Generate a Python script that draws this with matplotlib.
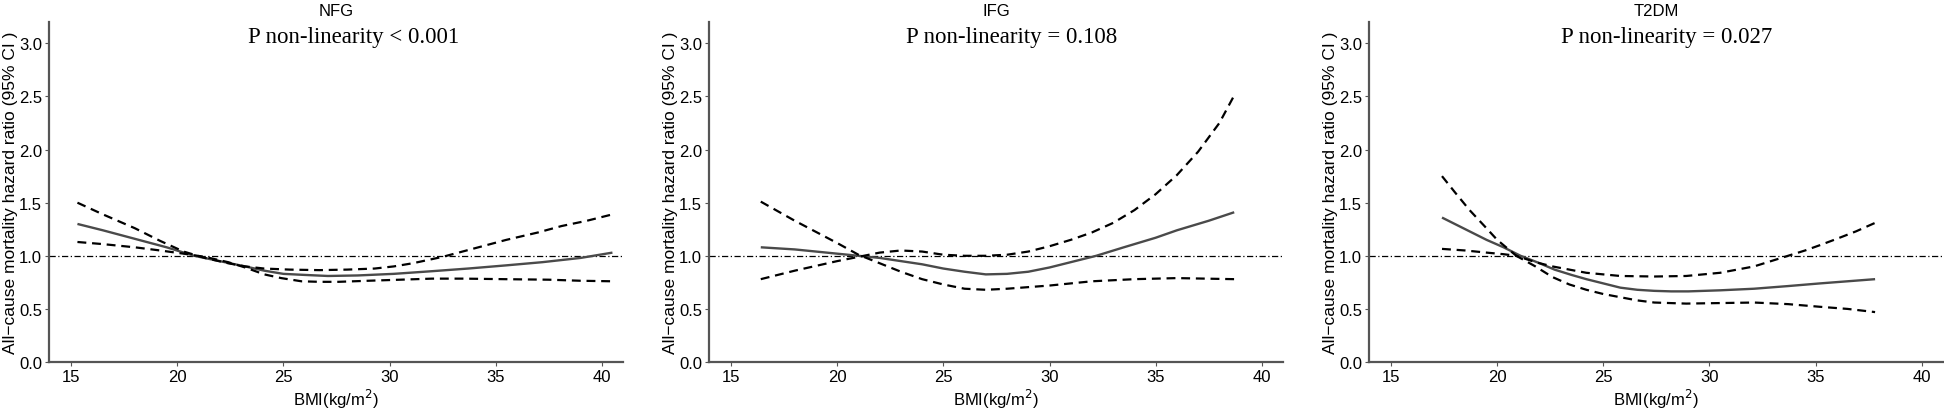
import matplotlib
matplotlib.use("Agg")
import matplotlib.pyplot as plt

plt.rcParams['font.family'] = ['Liberation Sans', 'DejaVu Sans']

# panel titles and p-values
groups = ['NFG', 'IFG', 'T2DM']
p_texts = ['P non-linearity < 0.001', 'P non-linearity = 0.108', 'P non-linearity = 0.027']

# NFG
nfg_x = [15.3, 16.5, 18.0, 19.5, 20.8, 22.0, 23.2, 24.1, 25.0, 26.0, 27.1, 28.5, 30.2, 32.0, 33.7, 35.5, 37.2, 39.0, 40.5]
nfg_hr = [1.30, 1.24, 1.16, 1.08, 1.00, 0.95, 0.90, 0.86, 0.83, 0.82, 0.81, 0.815, 0.83, 0.855, 0.88, 0.91, 0.94, 0.98, 1.03]
nfg_up_x = [15.3, 16.5, 18.0, 19.2, 20.3, 21.3, 22.4, 23.2, 24.1, 25.3, 26.7, 28.0, 29.3, 30.2, 31.1, 32.5, 34.0, 35.5, 37.0, 38.1, 39.3, 40.5]
nfg_up = [1.50, 1.39, 1.26, 1.14, 1.04, 0.98, 0.93, 0.90, 0.88, 0.87, 0.865, 0.87, 0.88, 0.90, 0.93, 0.99, 1.07, 1.15, 1.22, 1.28, 1.33, 1.39]
nfg_lo_x = [15.3, 16.5, 18.0, 19.2, 20.3, 21.3, 22.4, 23.2, 24.1, 24.9, 25.85, 26.7, 27.6, 29.0, 30.5, 32.0, 33.5, 35.4, 37.5, 39.0, 40.5]
nfg_lo = [1.13, 1.11, 1.08, 1.05, 1.02, 0.99, 0.94, 0.89, 0.825, 0.79, 0.76, 0.755, 0.755, 0.765, 0.775, 0.785, 0.785, 0.78, 0.775, 0.765, 0.76]

# IFG
ifg_x = [16.4, 18.0, 20.0, 21.0, 22.0, 23.0, 24.0, 25.0, 26.0, 27.0, 28.0, 29.0, 30.0, 31.0, 32.2, 33.5, 35.0, 36.0, 37.5, 38.7]
ifg_hr = [1.08, 1.06, 1.02, 1.00, 0.98, 0.95, 0.92, 0.88, 0.85, 0.825, 0.83, 0.85, 0.89, 0.94, 1.00, 1.08, 1.17, 1.24, 1.33, 1.41]
ifg_a_x = [16.4, 18.0, 20.0, 21.0, 22.0, 23.0, 24.0, 25.0, 26.0, 27.0, 28.0, 29.0, 30.0, 31.0, 32.0, 33.0, 34.0, 35.0, 36.0, 37.0, 38.0, 38.7]
ifg_a = [0.78, 0.86, 0.95, 0.99, 1.03, 1.05, 1.04, 1.01, 1.00, 1.00, 1.01, 1.04, 1.09, 1.15, 1.22, 1.31, 1.43, 1.58, 1.76, 1.98, 2.25, 2.51]
ifg_b_x = [16.4, 18.0, 20.0, 21.0, 22.0, 23.0, 24.0, 25.0, 26.0, 27.0, 28.0, 30.0, 32.0, 34.0, 36.0, 38.7]
ifg_b = [1.51, 1.33, 1.12, 1.01, 0.93, 0.85, 0.78, 0.73, 0.69, 0.68, 0.69, 0.72, 0.76, 0.78, 0.79, 0.78]

# T2DM
t2_x = [17.4, 18.5, 19.5, 20.3, 21.1, 22.0, 22.7, 23.5, 24.2, 25.0, 25.8, 26.6, 27.4, 28.2, 29.0, 30.5, 32.1, 33.7, 35.2, 36.5, 37.8]
t2_hr = [1.36, 1.25, 1.15, 1.08, 1.00, 0.93, 0.87, 0.82, 0.78, 0.74, 0.70, 0.68, 0.67, 0.665, 0.665, 0.675, 0.69, 0.715, 0.74, 0.76, 0.78]
t2_up_x = [17.4, 18.0, 18.7, 19.4, 20.0, 20.9, 21.8, 22.6, 23.4, 24.2, 25.0, 25.8, 27.4, 28.9, 30.5, 31.3, 32.1, 32.9, 33.7, 34.5, 35.2, 36.0, 36.9, 37.8]
t2_up = [1.75, 1.60, 1.43, 1.28, 1.15, 1.00, 0.94, 0.90, 0.87, 0.84, 0.825, 0.81, 0.805, 0.81, 0.84, 0.87, 0.90, 0.95, 1.00, 1.05, 1.10, 1.16, 1.23, 1.31]
t2_lo_x = [17.4, 18.5, 19.5, 20.3, 20.9, 21.8, 22.6, 23.4, 24.2, 25.0, 25.8, 26.6, 27.4, 28.9, 30.5, 32.1, 33.7, 35.2, 36.5, 37.8]
t2_lo = [1.065, 1.05, 1.03, 1.015, 1.00, 0.90, 0.80, 0.73, 0.68, 0.64, 0.61, 0.58, 0.56, 0.55, 0.555, 0.56, 0.545, 0.52, 0.50, 0.47]

panels = [
    (nfg_x, nfg_hr, nfg_up_x, nfg_up, nfg_lo_x, nfg_lo),
    (ifg_x, ifg_hr, ifg_a_x, ifg_a, ifg_b_x, ifg_b),
    (t2_x, t2_hr, t2_up_x, t2_up, t2_lo_x, t2_lo),
]
p_pos = [28.3, 28.2, 28.0]

fig = plt.figure(figsize=(19.44, 4.10), dpi=100)
lefts = [0.0252, 0.3647, 0.7042]
spine_col = '#555555'

for i, (x, hr, ux, u, lx, l) in enumerate(panels):
    ax = fig.add_axes([lefts[i], 0.1146, 0.2953, 0.829])
    ax.axhline(1.0, color='black', lw=0.9, dashes=(5, 2, 1, 2))
    ax.plot(x, hr, color='#4a4a4a', lw=1.7, solid_capstyle='butt')
    ax.plot(ux, u, color='black', lw=1.6, dashes=(4, 2.6))
    ax.plot(lx, l, color='black', lw=1.6, dashes=(4, 2.6))

    ax.set_xlim(13.96, 41.0)
    ax.set_ylim(0, 3.2)
    ax.set_xticks([15, 20, 25, 30, 35, 40])
    ax.set_yticks([0.0, 0.5, 1.0, 1.5, 2.0, 2.5, 3.0])
    ax.set_yticklabels(['0.0', '0.5', '1.0', '1.5', '2.0', '2.5', '3.0'])
    for s in ['top', 'right']:
        ax.spines[s].set_visible(False)
    for s in ['left', 'bottom']:
        ax.spines[s].set_color(spine_col)
        ax.spines[s].set_linewidth(1.6)
    ax.tick_params(axis='both', labelsize=12, length=3, width=0.8, color=spine_col, pad=2)

    ax.set_title(groups[i], fontsize=12, pad=5)
    ax.set_xlabel('BMI(kg/m$^2$)', fontsize=12, labelpad=2)
    ax.set_ylabel('All\u2212cause mortality hazard ratio (95% CI )', fontsize=12.5, labelpad=1)
    ax.text(p_pos[i], 3.06, p_texts[i], ha='center', va='center',
            fontsize=16.5, family=['Liberation Serif', 'DejaVu Serif'])

fig.savefig('out.png', dpi=100)
